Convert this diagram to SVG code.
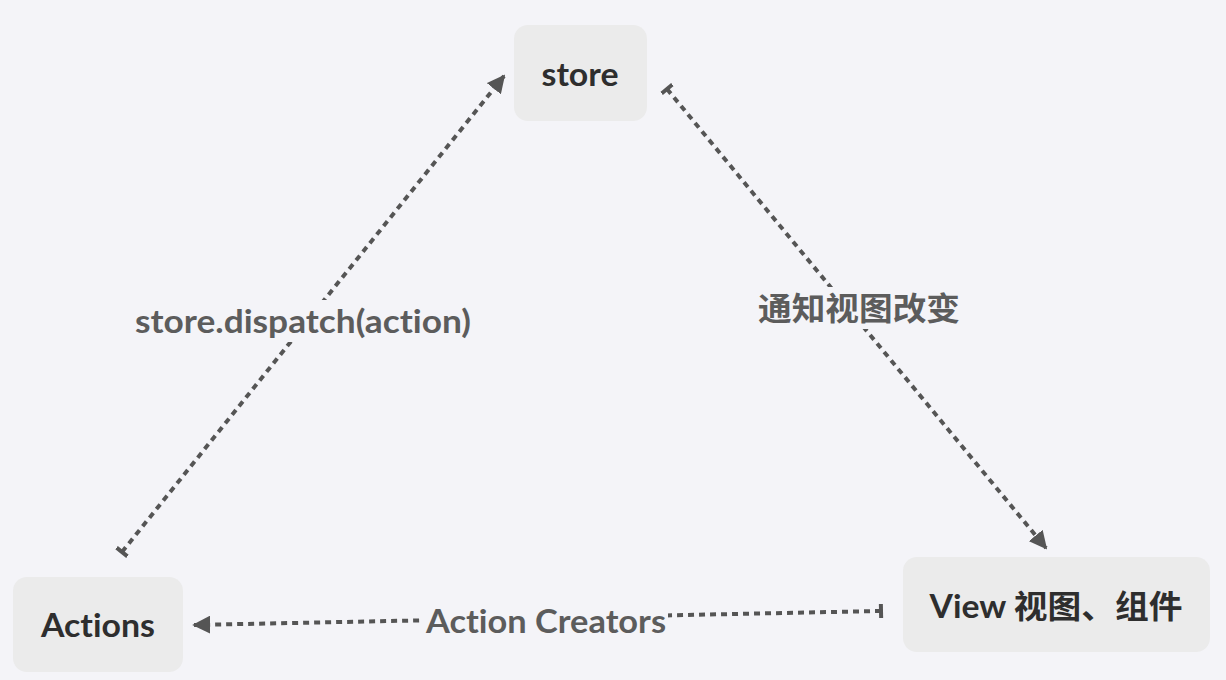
<svg xmlns="http://www.w3.org/2000/svg" width="1226" height="680" viewBox="0 0 1226 680">
<style>
text{font-variant-ligatures:none;font-feature-settings:"liga" 0,"dlig" 0;}
.node rect{fill:#ebebeb;}
.node text{font-family:Lato,"Noto Sans CJK SC",sans-serif;font-weight:bold;font-size:32px;fill:#2e2e2e;text-anchor:middle;}
.conn{stroke:#555;stroke-width:4;stroke-dasharray:6 5;fill:none;}
.lbl{font-family:Lato,"Noto Sans CJK SC",sans-serif;font-weight:bold;font-size:32px;fill:#5c5c5c;text-anchor:middle;}
.bg{fill:#f4f4f8;}
</style>
<defs>
<marker id="arr" viewBox="0 0 10 10" refX="9" refY="5" markerWidth="4.5" markerHeight="4.5" orient="auto" markerUnits="strokeWidth">
<path d="M0,0 L10,5 L0,10 z" fill="#555"/>
</marker>
<marker id="bar" viewBox="0 0 4 14" refX="2" refY="7" markerWidth="1.5" markerHeight="3.5" orient="auto" markerUnits="strokeWidth">
<rect x="0" y="0" width="4" height="14" fill="#555"/>
</marker>
</defs>
<rect width="1226" height="680" fill="#f4f4f8"/>
<g id="connectors">
<line class="conn" x1="122" y1="552" x2="504" y2="76" marker-start="url(#bar)" marker-end="url(#arr)"/>
<line class="conn" x1="667" y1="89" x2="1046" y2="548" marker-start="url(#bar)" marker-end="url(#arr)"/>
<line class="conn" x1="881" y1="611" x2="194" y2="625" marker-start="url(#bar)" marker-end="url(#arr)"/>
<rect class="bg" x="132" y="300" width="342" height="42"/>
<text class="lbl" x="303" y="333" textLength="336" lengthAdjust="spacingAndGlyphs">store.dispatch(action)</text>
<rect class="bg" x="754" y="287" width="210" height="42"/>
<text class="lbl" x="859" y="320" textLength="202" lengthAdjust="spacingAndGlyphs">通知视图改变</text>
<rect class="bg" x="424" y="602" width="244" height="38"/>
<text class="lbl" x="546" y="633" textLength="240" lengthAdjust="spacingAndGlyphs">Action Creators</text>
</g>
<g id="store" class="node">
<rect x="514" y="25" width="133" height="96" rx="14"/>
<text x="580" y="86" textLength="77" lengthAdjust="spacingAndGlyphs">store</text>
</g>
<g id="actions" class="node">
<rect x="13" y="577" width="170" height="95" rx="14"/>
<text x="98" y="637" textLength="114" lengthAdjust="spacingAndGlyphs">Actions</text>
</g>
<g id="view" class="node">
<rect x="903" y="557" width="307" height="95" rx="14"/>
<text x="1056" y="618" textLength="253" lengthAdjust="spacingAndGlyphs">View 视图、组件</text>
</g>
</svg>
